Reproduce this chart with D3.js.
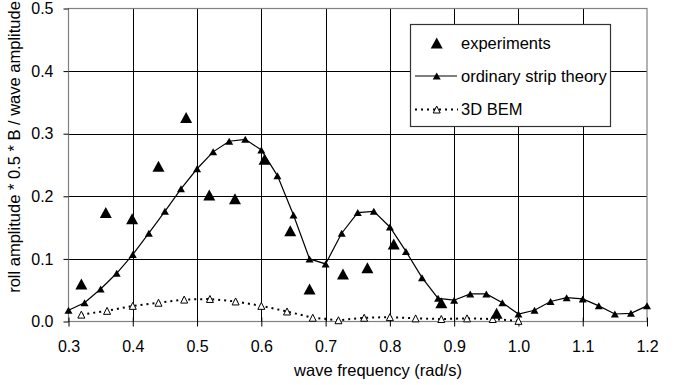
<!DOCTYPE html>
<html lang="en">
<head>
    <meta charset="UTF-8">
    <title>Roll amplitude vs wave frequency</title>
    <script src="https://d3js.org/d3.v7.min.js"></script>
    <style>
        body { margin: 0; padding: 0; background: #fff; }
        svg { display: block; font-family: "Liberation Sans", Arial, sans-serif; }
    </style>
</head>
<body>
    <svg id="chart"></svg>
    <script>
        // Data
        const expFreq = [0.32, 0.358, 0.399, 0.44, 0.483, 0.519, 0.559, 0.605, 0.645, 0.675, 0.727, 0.765, 0.806, 0.88, 0.966];
        const expVal  = [0.060, 0.174, 0.164, 0.248, 0.326, 0.202, 0.196, 0.259, 0.145, 0.052, 0.076, 0.086, 0.124, 0.030, 0.013];

        const stripFreq = [0.3, 0.325, 0.35, 0.375, 0.4, 0.425, 0.45, 0.475, 0.5, 0.525, 0.55, 0.575, 0.6, 0.625, 0.65, 0.675,
                           0.7, 0.725, 0.75, 0.775, 0.8, 0.825, 0.85, 0.875, 0.9, 0.925, 0.95, 0.975, 1.0, 1.025, 1.05,
                           1.075, 1.1, 1.125, 1.15, 1.175, 1.2];
        const stripVal  = [0.018, 0.030, 0.052, 0.077, 0.107, 0.141, 0.176, 0.212, 0.244, 0.271, 0.288, 0.291, 0.274, 0.233, 0.170, 0.100,
                           0.092, 0.141, 0.174, 0.176, 0.151, 0.112, 0.070, 0.037, 0.034, 0.044, 0.044, 0.030, 0.012, 0.018, 0.032,
                           0.038, 0.036, 0.025, 0.012, 0.013, 0.025];

        const bemFreq = [0.32, 0.36, 0.40, 0.44, 0.48, 0.52, 0.56, 0.60, 0.64, 0.68, 0.72, 0.76, 0.80, 0.84, 0.88, 0.92, 0.96, 1.00];
        const bemVal  = [0.011, 0.017, 0.025, 0.030, 0.035, 0.036, 0.032, 0.025, 0.016, 0.006, 0.002, 0.006, 0.007, 0.005, 0.004, 0.005, 0.004, 0.001];

        const xTicks = [0.3, 0.4, 0.5, 0.6, 0.7, 0.8, 0.9, 1.0, 1.1, 1.2];
        const yTicks = [0.0, 0.1, 0.2, 0.3, 0.4, 0.5];

        const legendLabels = ["experiments", "ordinary strip theory", "3D BEM"];

        const W = 683, H = 385;
        const plot = { left: 68.5, right: 647, top: 8.5, bottom: 321.5 };

        const svg = d3.select("#chart").attr("width", W).attr("height", H);

        const x = d3.scaleLinear().domain([0.3, 1.2]).range([plot.left, plot.right]);
        const y = d3.scaleLinear().domain([0, 0.5]).range([plot.bottom, plot.top]);

        // triangle path centred on its bounding box
        const tri = (w, h) => `M0,${-h / 2}L${w / 2},${h / 2}L${-w / 2},${h / 2}Z`;

        // Gridlines
        svg.append("g")
            .selectAll("line")
            .data(xTicks.slice(1, -1))
            .join("line")
            .attr("x1", d => Math.round(x(d)) + 0.5).attr("x2", d => Math.round(x(d)) + 0.5)
            .attr("y1", plot.top).attr("y2", plot.bottom)
            .attr("stroke", "#000").attr("stroke-width", 1);

        svg.append("g")
            .selectAll("line")
            .data(yTicks.slice(1, -1))
            .join("line")
            .attr("y1", d => Math.round(y(d)) + 0.5).attr("y2", d => Math.round(y(d)) + 0.5)
            .attr("x1", plot.left).attr("x2", plot.right)
            .attr("stroke", "#000").attr("stroke-width", 1);

        // Plot border (gray)
        svg.append("rect")
            .attr("x", plot.left).attr("y", plot.top)
            .attr("width", plot.right - plot.left).attr("height", plot.bottom - plot.top)
            .attr("fill", "none").attr("stroke", "#808080").attr("stroke-width", 1.2);

        // Axes
        const xAxis = svg.append("g")
            .attr("transform", `translate(0,${plot.bottom})`)
            .call(d3.axisBottom(x).tickValues(xTicks).tickFormat(d3.format(".1f")).tickSize(5).tickPadding(14));
        xAxis.select(".domain").remove();
        xAxis.selectAll("line").attr("stroke", "#000").attr("y1", -4);
        xAxis.selectAll("text").attr("font-size", "16px").attr("fill", "#000");

        const yAxis = svg.append("g")
            .attr("transform", `translate(${plot.left},0)`)
            .call(d3.axisLeft(y).tickValues(yTicks).tickFormat(d3.format(".1f")).tickSize(5).tickPadding(10));
        yAxis.select(".domain").remove();
        yAxis.selectAll("line").attr("stroke", "#000");
        yAxis.selectAll("text").attr("font-size", "16px").attr("fill", "#000");

        // Axis titles
        svg.append("text")
            .attr("x", 378).attr("y", 376)
            .attr("text-anchor", "middle")
            .attr("font-size", "16.5px")
            .text("wave frequency (rad/s)");

        svg.append("text")
            .attr("transform", "translate(20,147) rotate(-90)")
            .attr("text-anchor", "middle")
            .attr("font-size", "16.5px")
            .text("roll amplitude * 0.5 * B / wave amplitude");

        // 3D BEM dotted line + open triangles
        const bem = bemFreq.map((f, i) => [f, bemVal[i]]);
        svg.append("path")
            .datum(bem)
            .attr("d", d3.line().x(d => x(d[0])).y(d => y(d[1])))
            .attr("fill", "none").attr("stroke", "#000")
            .attr("stroke-width", 2).attr("stroke-dasharray", "2,4");

        // Strip theory line + small triangles
        const strip = stripFreq.map((f, i) => [f, stripVal[i]]);
        svg.append("path")
            .datum(strip)
            .attr("d", d3.line().x(d => x(d[0])).y(d => y(d[1])))
            .attr("fill", "none").attr("stroke", "#000").attr("stroke-width", 1.2);

        svg.append("g").selectAll("path")
            .data(bem)
            .join("path")
            .attr("transform", d => `translate(${x(d[0])},${y(d[1])})`)
            .attr("d", tri(7, 7))
            .attr("fill", "#fff").attr("stroke", "#000").attr("stroke-width", 1);

        svg.append("g").selectAll("path")
            .data(strip)
            .join("path")
            .attr("transform", d => `translate(${x(d[0])},${y(d[1])})`)
            .attr("d", tri(8, 7))
            .attr("fill", "#000");

        // Experiments: big triangles
        const exp = expFreq.map((f, i) => [f, expVal[i]]);
        svg.append("g").selectAll("path")
            .data(exp)
            .join("path")
            .attr("transform", d => `translate(${x(d[0])},${y(d[1])})`)
            .attr("d", tri(12, 11))
            .attr("fill", "#000");

        // Legend
        const lg = svg.append("g");
        lg.append("rect")
            .attr("x", 410.5).attr("y", 24.5).attr("width", 200).attr("height", 102)
            .attr("fill", "#fff").attr("stroke", "#333").attr("stroke-width", 1.2);

        const rows = [43, 76, 109.5];
        // experiments
        lg.append("path").attr("transform", `translate(436.7,${rows[0]})`).attr("d", tri(12, 11)).attr("fill", "#000");
        // strip theory
        lg.append("line").attr("x1", 415).attr("x2", 457).attr("y1", rows[1]).attr("y2", rows[1])
            .attr("stroke", "#000").attr("stroke-width", 1.2);
        lg.append("path").attr("transform", `translate(436.7,${rows[1]})`).attr("d", tri(8, 7)).attr("fill", "#000");
        // 3D BEM
        lg.append("line").attr("x1", 415).attr("x2", 458).attr("y1", rows[2]).attr("y2", rows[2])
            .attr("stroke", "#000").attr("stroke-width", 2).attr("stroke-dasharray", "2,4");
        lg.append("path").attr("transform", `translate(436.7,${rows[2]})`).attr("d", tri(7, 7))
            .attr("fill", "#fff").attr("stroke", "#000").attr("stroke-width", 1);

        lg.selectAll("text.lbl")
            .data(legendLabels)
            .join("text")
            .attr("class", "lbl")
            .attr("x", 461)
            .attr("y", (d, i) => rows[i] + 5.5)
            .attr("font-size", "16.5px")
            .text(d => d);
    </script>
</body>
</html>
